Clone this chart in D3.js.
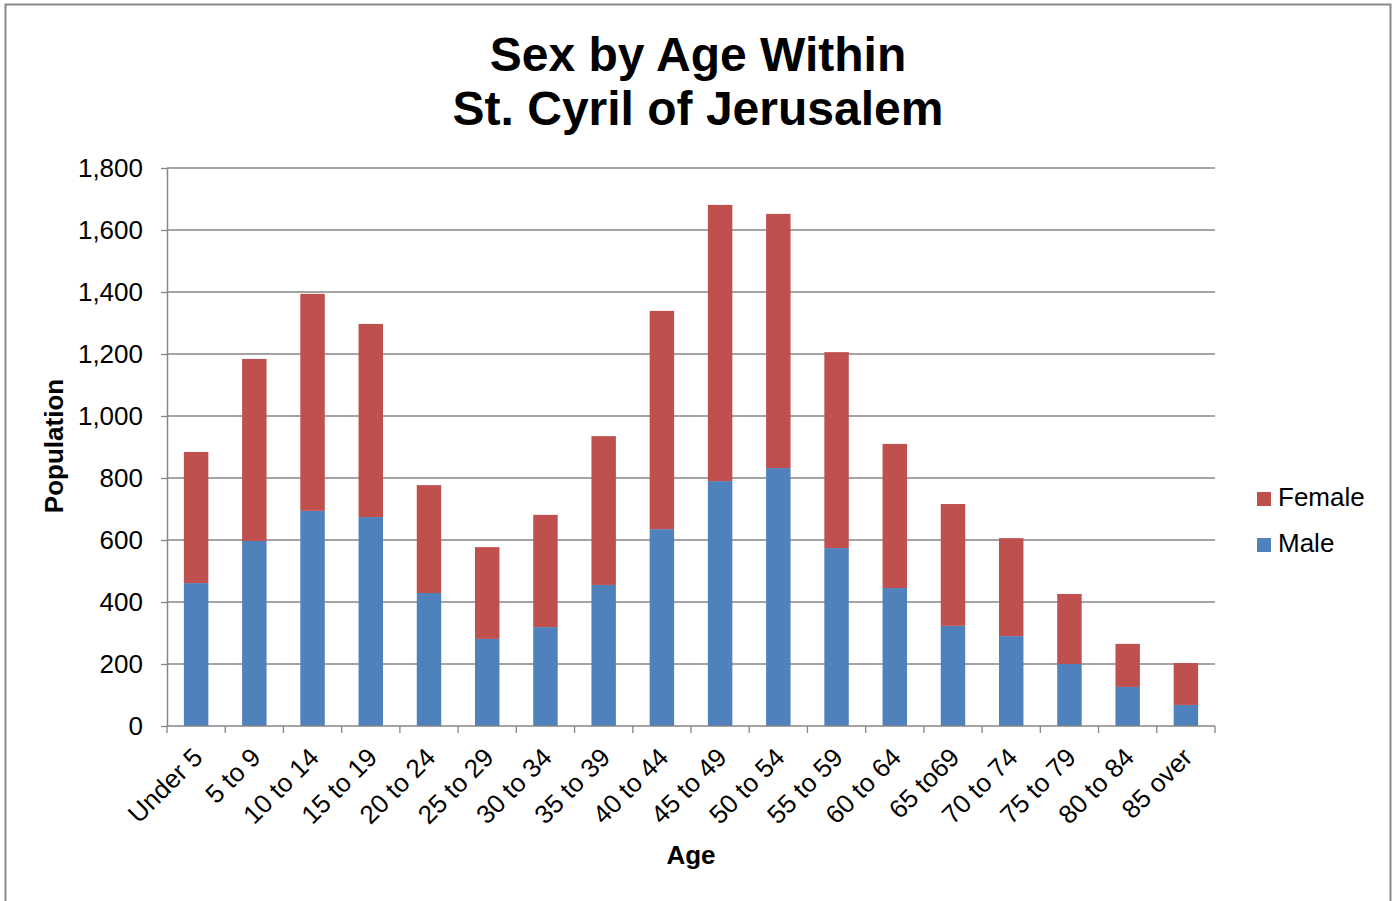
<!DOCTYPE html>
<html>
<head>
<meta charset="utf-8">
<script src="https://cdn.jsdelivr.net/npm/d3@7"></script>
<style>
  body { margin: 0; background: #fff; }
  text { font-family: "Liberation Sans", Arial, sans-serif; }
</style>
</head>
<body>
<svg id="chart" width="1398" height="901"></svg>
<script>
// data
var ageGroups = ["Under 5", "5 to 9", "10 to 14", "15 to 19", "20 to 24", "25 to 29", "30 to 34",
    "35 to 39", "40 to 44", "45 to 49", "50 to 54", "55 to 59", "60 to 64", "65 to69",
    "70 to 74", "75 to 79", "80 to 84", "85 over"];
var male   = [461, 597, 694, 674, 429, 281, 319, 455, 635, 790, 832, 574, 445, 323, 290, 200, 126, 68];
var female = [423, 587, 700, 623, 348, 296, 362, 480, 704, 891, 820, 632, 465, 393, 316, 226, 139, 135];
var yTicks = [0, 200, 400, 600, 800, 1000, 1200, 1400, 1600, 1800];

var svg = d3.select("#chart");
var margin = {left: 167, right: 183, top: 168, bottom: 175};
var width = 1398 - margin.left - margin.right,
    height = 901 - margin.top - margin.bottom;

// outer frame
svg.append("rect")
    .attr("x", 5.5).attr("y", 4.5)
    .attr("width", 1385).attr("height", 900)
    .attr("fill", "none").attr("stroke", "#898989").attr("stroke-width", 2);

var g = svg.append("g").attr("transform", "translate(" + margin.left + "," + margin.top + ")");

var x = d3.scaleBand().domain(ageGroups).range([0, width]).paddingInner(0.58).paddingOuter(0.29);
var y = d3.scaleLinear().domain([0, 1800]).range([height, 0]);

// gridlines
g.append("g").selectAll("line")
    .data(yTicks.slice(1))
    .enter().append("line")
    .attr("x1", 0).attr("x2", width)
    .attr("y1", function (d) { return y(d); })
    .attr("y2", function (d) { return y(d); })
    .attr("stroke", "#868686").attr("stroke-width", 1.3);

var stackData = ageGroups.map(function (a, i) {
    return {age: a, Male: male[i], Female: female[i]};
});
var series = d3.stack().keys(["Male", "Female"])(stackData);
var colors = {Male: "#4f81bd", Female: "#c0504d"};

g.append("g").selectAll("g")
    .data(series)
    .enter().append("g")
    .attr("fill", function (d) { return colors[d.key]; })
    .selectAll("rect")
    .data(function (d) { return d; })
    .enter().append("rect")
    .attr("x", function (d) { return x(d.data.age); })
    .attr("y", function (d) { return y(d[1]); })
    .attr("height", function (d) { return y(d[0]) - y(d[1]); })
    .attr("width", x.bandwidth());

// y axis
var yAxis = g.append("g")
    .call(d3.axisLeft(y).tickValues(yTicks).tickSize(6).tickSizeOuter(0).tickFormat(d3.format(",")));
yAxis.select(".domain").attr("stroke", "#868686").attr("stroke-width", 1.5);
yAxis.selectAll(".tick line").attr("stroke", "#868686").attr("stroke-width", 1.3);
yAxis.selectAll(".tick text").attr("font-size", 26).attr("fill", "#000").attr("x", -24);

// x axis with ticks at category boundaries
var step = x.step();
var xAxisG = g.append("g").attr("transform", "translate(0," + height + ")");
xAxisG.append("line").attr("x1", 0).attr("x2", width).attr("stroke", "#868686").attr("stroke-width", 1.5);
xAxisG.selectAll(".bt")
    .data(d3.range(ageGroups.length + 1))
    .enter().append("line")
    .attr("class", "bt")
    .attr("x1", function (i) { return i * step; })
    .attr("x2", function (i) { return i * step; })
    .attr("y1", 0).attr("y2", 7)
    .attr("stroke", "#868686").attr("stroke-width", 1.3);
xAxisG.selectAll(".xl")
    .data(ageGroups)
    .enter().append("text")
    .attr("class", "xl")
    .attr("transform", function (d) {
        return "translate(" + (x(d) + x.bandwidth() / 2 + 8) + ",33) rotate(-45)";
    })
    .attr("text-anchor", "end")
    .attr("font-size", 26)
    .text(function (d) { return d; });

// titles
svg.append("text").attr("x", 698).attr("y", 71).attr("text-anchor", "middle")
    .attr("font-size", 48).attr("font-weight", "bold").text("Sex by Age Within");
svg.append("text").attr("x", 698).attr("y", 125).attr("text-anchor", "middle")
    .attr("font-size", 48).attr("font-weight", "bold").text("St. Cyril of Jerusalem");
svg.append("text").attr("x", 691).attr("y", 864).attr("text-anchor", "middle")
    .attr("font-size", 26).attr("font-weight", "bold").text("Age");
svg.append("text").attr("transform", "translate(63,446) rotate(-90)").attr("text-anchor", "middle")
    .attr("font-size", 26).attr("font-weight", "bold").text("Population");

// legend
var legendItems = ["Female", "Male"];
var legend = svg.append("g").selectAll("g")
    .data(legendItems)
    .enter().append("g")
    .attr("transform", function (d, i) { return "translate(1257," + (492 + i * 46) + ")"; });
legend.append("rect").attr("width", 14).attr("height", 14)
    .attr("fill", function (d) { return colors[d]; });
legend.append("text").attr("x", 21).attr("y", 14).attr("font-size", 26).text(function (d) { return d; });
</script>
</body>
</html>
